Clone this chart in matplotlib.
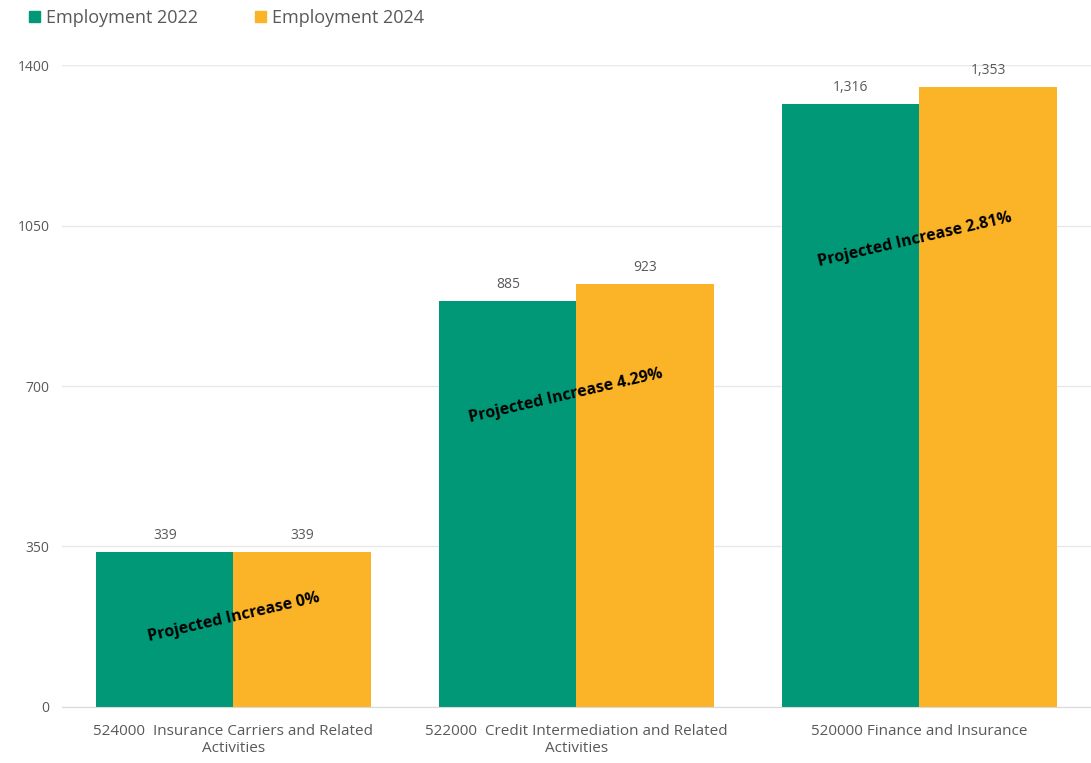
import matplotlib.pyplot as plt
from matplotlib.patches import Patch
import numpy as np

plt.rcParams['font.family'] = ['Open Sans', 'DejaVu Sans']

# Данные по занятости
categories = ['524000  Insurance Carriers and Related\nActivities',
              '522000  Credit Intermediation and Related\nActivities',
              '520000 Finance and Insurance']
emp_2022 = [339, 885, 1316]
emp_2024 = [339, 923, 1353]
increase_labels = ['Projected Increase 0%', 'Projected Increase 4.29%',
                   'Projected Increase 2.81%']
increase_x = [0.0, 0.97, 1.987]
increase_y = [196, 678, 1018]
yticks = [0, 350, 700, 1050, 1400]

green = '#009877'
orange = '#FBB327'
gray = '#595959'

fig = plt.figure(figsize=(10.91, 7.63), dpi=100)
ax = fig.add_axes([0.0568, 0.0734, 0.9432, 0.8414])

x = np.arange(len(categories))
w = 0.4
ax.bar(x - w / 2, emp_2022, w, color=green, label='Employment 2022')
ax.bar(x + w / 2, emp_2024, w, color=orange, label='Employment 2024')

for xi, v in zip(x, emp_2022):
    ax.text(xi - w / 2, v + 19, f'{v:,}', ha='center', va='bottom', fontsize=10, color=gray)
for xi, v in zip(x, emp_2024):
    ax.text(xi + w / 2, v + 19, f'{v:,}', ha='center', va='bottom', fontsize=10, color=gray)

# Подписи прироста поверх столбцов
for xi, yv, lab in zip(increase_x, increase_y, increase_labels):
    ax.text(xi, yv, lab, ha='center', va='center', rotation=13, rotation_mode='anchor',
            fontsize=11.5, fontweight='bold', color='black')

ax.set_xlim(-0.5, 2.5)
ax.set_ylim(0, 1400)
ax.set_yticks(yticks)
ax.set_yticklabels([str(t) for t in yticks])
ax.set_xticks(x)
ax.set_xticklabels(categories, fontsize=11, color=gray)
ax.tick_params(axis='y', labelsize=10, labelcolor=gray, length=0, pad=9)
ax.tick_params(axis='x', length=0, pad=12)
ax.grid(axis='y', color='#E8E8E8', linewidth=1)
ax.set_axisbelow(True)
for s in ['top', 'right', 'left']:
    ax.spines[s].set_visible(False)
ax.spines['bottom'].set_color('#D9D9D9')

handles = [Patch(color=green, label='Employment 2022'),
           Patch(color=orange, label='Employment 2024')]
fig.legend(handles=handles, loc='upper left', bbox_to_anchor=(0.012, 1.01), ncol=2,
           frameon=False, fontsize=13, labelcolor=gray, handlelength=0.6,
           handleheight=0.6, handletextpad=0.3, columnspacing=3.2)

fig.savefig('out.png', dpi=100)
